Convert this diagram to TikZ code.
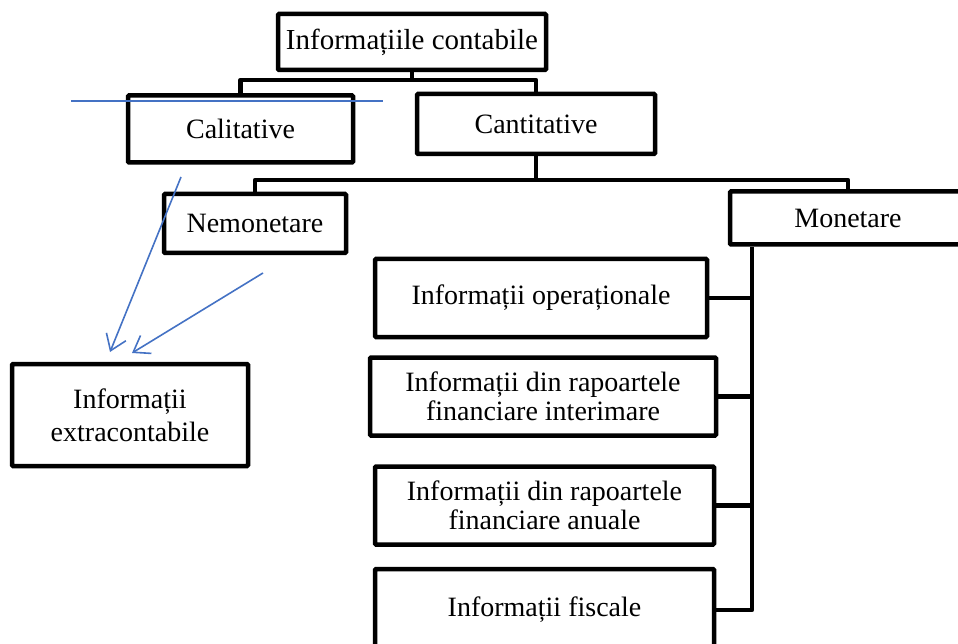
\documentclass[tikz,border=0pt]{standalone}
\usepackage{fontspec}
\setmainfont{Liberation Serif}
\usetikzlibrary{arrows.meta}
\definecolor{penblue}{RGB}{68,114,196}
\begin{document}
\begin{tikzpicture}[x=1pt,y=-1pt,
  box/.style={draw, line width=4.5pt, rounded corners=1pt, rectangle, inner sep=0pt,
    align=center, font=\fontsize{28}{29}\selectfont},
  link/.style={line width=4.5pt, line join=round},
  mark line/.style={draw=penblue, line width=1.6pt},
  pointer/.style={mark line, -{Straight Barb[length=15pt,width=21pt,line width=1.6pt]}}]
\useasboundingbox (0,0) rectangle (958,644);
\clip (0,0) rectangle (958,644);

% top level and its two branches
\node[box, minimum width=268pt, minimum height=56pt, font=\fontsize{29}{30}\selectfont]
  (top) at (412,42) {Informațiile contabile};
\node[box, minimum width=225pt, minimum height=67pt] (cal) at (240.5,129) {Calitative};
\node[box, minimum width=238pt, minimum height=60pt] (cant) at (536,124) {Cantitative};

% second level
\node[box, minimum width=182pt, minimum height=59pt] (nem) at (255,223.5) {Nemonetare};
\node[box, minimum width=236pt, minimum height=53pt] (mon) at (848,218) {Monetare};

% monetary information
\node[box, minimum width=332pt, minimum height=78pt] (op) at (541,298) {Informații operaționale};
\node[box, minimum width=346pt, minimum height=78pt] (int) at (543,396.5)
  {Informații din rapoartele\\financiare interimare};
\node[box, minimum width=339pt, minimum height=78pt] (anu) at (544.5,505.5)
  {Informații din rapoartele\\financiare anuale};
\node[box, minimum width=339pt, minimum height=82pt] (fis) at (544.5,610) {Informații fiscale};

% extra-accounting information
\node[box, minimum width=236pt, minimum height=102pt,
  font=\fontsize{28}{33}\selectfont] (ext) at (130,415) {Informații\\extracontabile};

% tree connectors
\coordinate (b1) at (412,80);
\coordinate (b2) at (536,180);
\coordinate (sp) at (752,0);
\draw[link] (top.south) -- (b1);
\draw[link] (cal.north) |- (b1) -| (cant.north);
\draw[link] (cant.south) -- (b2);
\draw[link] (nem.north) |- (b2) -| (mon.north);
\draw[link] (sp |- mon.south) -- (sp |- fis.east) -- (fis.east);
\draw[link] (op.east) -- (op.east -| sp);
\draw[link] (int.east) -- (int.east -| sp);
\draw[link] (anu.east) -- (anu.east -| sp);

% hand-drawn annotations
\coordinate (s1) at (71,101);
\coordinate (s2) at (383,101);
\coordinate (p1) at (181,177);
\coordinate (q1) at (110,352);
\coordinate (p2) at (263,273);
\coordinate (q2) at (132,353);
\draw[mark line] (s1) -- (s2);
\draw[pointer] (p1) -- (q1);
\draw[pointer] (p2) -- (q2);
\end{tikzpicture}
\end{document}
